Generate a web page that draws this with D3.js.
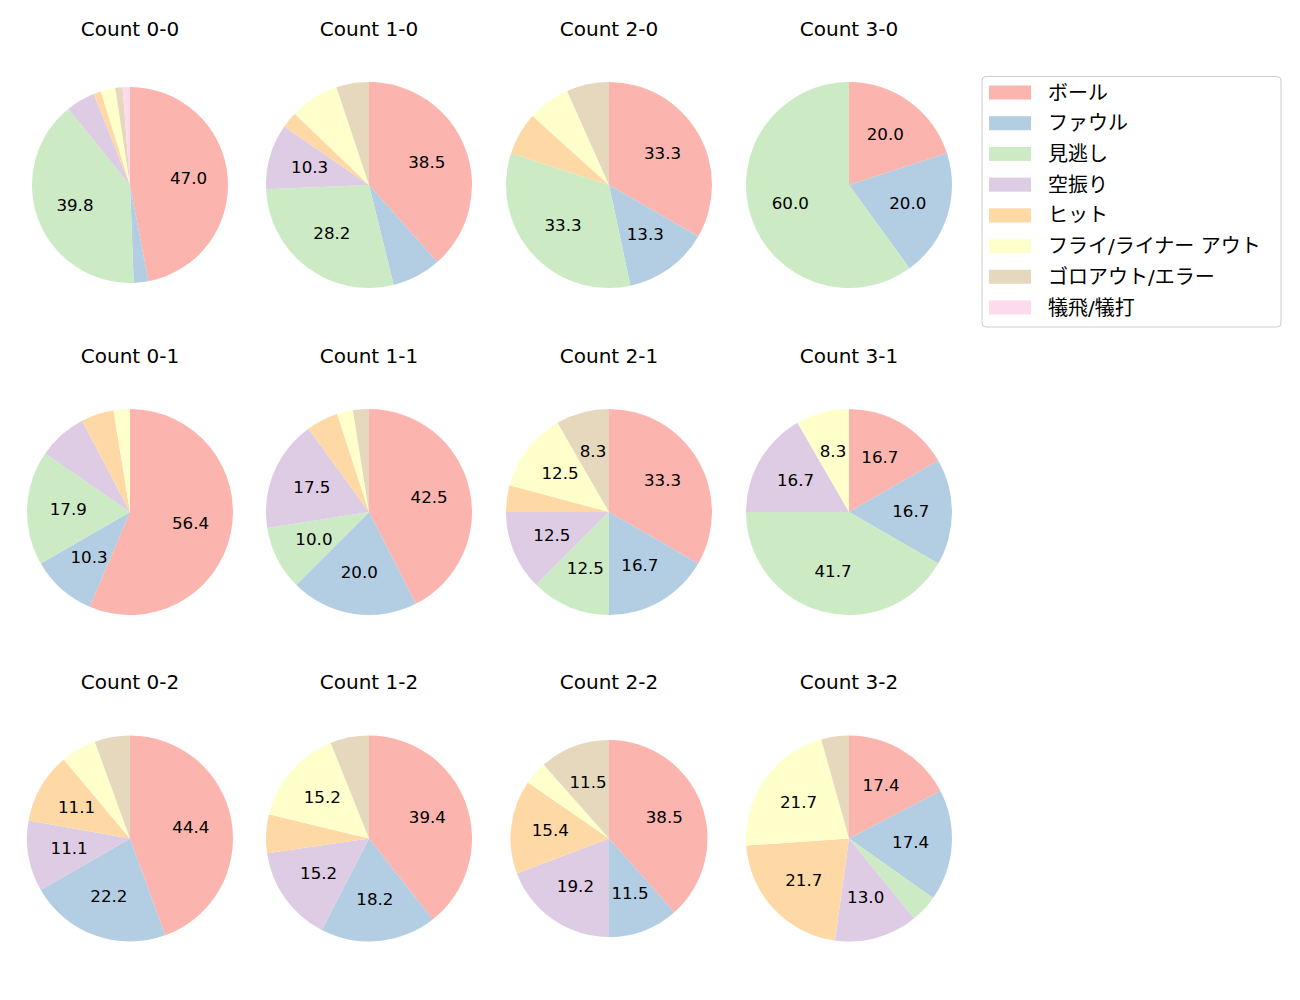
<!DOCTYPE html>
<html><head><meta charset="utf-8">
<script src="https://cdn.jsdelivr.net/npm/d3@7"></script>
<style>body{margin:0;background:#fff;} svg{display:block;}</style>
</head><body>
<svg id="c" width="1300" height="1000"></svg>
<script>
const categories = ["ボール","ファウル","見逃し","空振り","ヒット","フライ/ライナー アウト","ゴロアウト/エラー","犠飛/犠打"];
const colors = ["#fbb4ae","#b3cde3","#ccebc5","#decbe4","#fed9a6","#ffffcc","#e5d8bd","#fddaec"];
const titles = ["Count 0-0","Count 1-0","Count 2-0","Count 3-0",
                "Count 0-1","Count 1-1","Count 2-1","Count 3-1",
                "Count 0-2","Count 1-2","Count 2-2","Count 3-2"];
// counts per category (order as categories)
const c00 = [39,2,33,4,1,2,1,1];
const c10 = [15,3,11,4,1,3,2,0];
const c20 = [5,2,5,0,1,1,1,0];
const c30 = [1,1,3,0,0,0,0,0];
const c01 = [22,4,7,3,2,1,0,0];
const c11 = [17,8,4,7,2,1,1,0];
const c21 = [8,4,3,3,1,3,2,0];
const c31 = [2,2,5,2,0,1,0,0];
const c02 = [8,4,0,2,2,1,1,0];
const c12 = [13,6,0,5,2,5,2,0];
const c22 = [10,3,0,5,4,1,3,0];
const c32 = [4,4,1,3,5,5,1,0];
const series = [c00,c10,c20,c30,c01,c11,c21,c31,c02,c12,c22,c32];

const svg = d3.select("#c");
const font = "'DejaVu Sans', 'Noto Sans CJK JP', sans-serif";
const colX = d3.scaleOrdinal().domain([0,1,2,3]).range([130,369,609,849]);
const rowY = d3.scaleOrdinal().domain([0,1,2]).range([185,512,838.5]);
const radii = [98,103,103,103, 103,103,103,103, 103,103,98.5,103];

const pie = d3.pie().sort(null).value(d => d);
series.forEach((vals, i) => {
  const col = i % 4, row = Math.floor(i / 4);
  const cx = colX(col), cy = rowY(row), r = radii[i];
  const total = d3.sum(vals);
  const g = svg.append("g").attr("transform", `translate(${cx},${cy})`);
  const arcs = pie(vals);
  const arc = d3.arc().innerRadius(0).outerRadius(r);
  const labelArc = d3.arc().innerRadius(r*0.6).outerRadius(r*0.6);
  g.selectAll("path").data(arcs).enter().append("path")
    .attr("d", arc).attr("fill", (d,j) => colors[j]);
  g.selectAll("text.lab").data(arcs.filter(d => d.value/total*100 >= 8)).enter().append("text")
    .attr("class","lab")
    .attr("transform", d => { const p = labelArc.centroid(d); return `translate(${p[0]},${p[1]-1})`; })
    .attr("text-anchor","middle").attr("dominant-baseline","central")
    .style("font-family", font).style("font-size","16.7px").attr("fill","#000")
    .text(d => (d.value/total*100).toFixed(1));
  svg.append("text").attr("x", cx).attr("y", cy - r - 0 + (r - 149.3))
    .attr("text-anchor","middle")
    .style("font-family", font).style("font-size","20px").attr("fill","#000")
    .text(titles[i]);
});

// legend
const lg = svg.append("g");
lg.append("rect").attr("x",982).attr("y",76.5).attr("width",299).attr("height",250.5)
  .attr("rx",4).attr("fill","#fff").attr("stroke","#cccccc").attr("stroke-width",1);
const ly = d3.scaleLinear().domain([0,7]).range([92.5,307.5]);
categories.forEach((c, j) => {
  lg.append("rect").attr("x",989).attr("y",ly(j)-7).attr("width",42).attr("height",14).attr("fill",colors[j]);
  lg.append("text").attr("x",1048).attr("y",ly(j)).attr("dominant-baseline","central")
    .style("font-family", font).style("font-size","20px").attr("fill","#000").text(c);
});
</script>
</body></html>
